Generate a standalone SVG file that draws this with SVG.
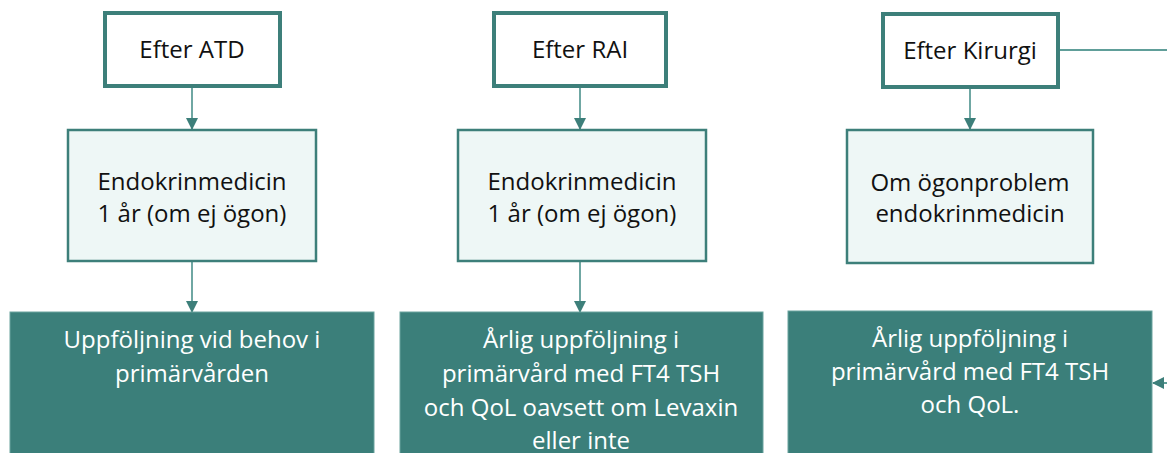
<svg xmlns="http://www.w3.org/2000/svg" width="1167" height="453" viewBox="0 0 1167 453">
<style>
.top{fill:#fff;stroke:#3d7f7a;stroke-width:4}
.mid{fill:#eef7f6;stroke:#3d7f7a;stroke-width:2.5}
.bot{fill:#3b7f7a;stroke:#6aa39e;stroke-width:1}
.t{font-family:"Open Sans","Liberation Sans",sans-serif;font-size:24px;text-anchor:middle;fill:#111}
.w{fill:#fff}
.c{fill:none;stroke:#609e99;stroke-width:1.8}
</style>
<defs>
<marker id="ah" markerWidth="12" markerHeight="12" refX="11" refY="6" orient="auto" markerUnits="userSpaceOnUse">
<path d="M0,0 L12,6 L0,12 Z" fill="#3d7f7a"/>
</marker>
</defs>
<g id="connectors">
<path class="c" d="M192 87 V129" marker-end="url(#ah)"/>
<path class="c" d="M192 261 V312" marker-end="url(#ah)"/>
<path class="c" d="M580 87 V129" marker-end="url(#ah)"/>
<path class="c" d="M580 261 V312" marker-end="url(#ah)"/>
<path class="c" d="M970 88 V129" marker-end="url(#ah)"/>
<path class="c" d="M1058 50 H1180 V383 H1153" marker-end="url(#ah)"/>
</g>
<g id="n1"><rect class="top" x="105" y="13" width="175" height="73"/><text class="t" x="192" y="58">Efter ATD</text></g>
<g id="n2"><rect class="top" x="494" y="13" width="172" height="73"/><text class="t" x="580" y="58">Efter RAI</text></g>
<g id="n3"><rect class="top" x="883" y="14" width="175" height="73"/><text class="t" x="970" y="59">Efter Kirurgi</text></g>
<g id="n4"><rect class="mid" x="68" y="130" width="248" height="131"/><text class="t" x="192" y="190">Endokrinmedicin</text><text class="t" x="192" y="222">1 år (om ej ögon)</text></g>
<g id="n5"><rect class="mid" x="458" y="130" width="248" height="131"/><text class="t" x="582" y="190">Endokrinmedicin</text><text class="t" x="582" y="222">1 år (om ej ögon)</text></g>
<g id="n6"><rect class="mid" x="847" y="130" width="246" height="133"/><text class="t" x="970" y="191">Om ögonproblem</text><text class="t" x="970" y="222">endokrinmedicin</text></g>
<g id="n7"><rect class="bot" x="10" y="312" width="364" height="150"/><text class="t w" x="192" y="348">Uppföljning vid behov i</text><text class="t w" x="192" y="382">primärvården</text></g>
<g id="n8"><rect class="bot" x="400" y="312" width="363" height="150"/><text class="t w" x="581" y="348">Årlig uppföljning i</text><text class="t w" x="581" y="382">primärvård med FT4 TSH</text><text class="t w" x="581" y="416">och QoL oavsett om Levaxin</text><text class="t w" x="581" y="449">eller inte</text></g>
<g id="n9"><rect class="bot" x="788" y="311" width="364" height="150"/><text class="t w" x="970" y="347">Årlig uppföljning i</text><text class="t w" x="970" y="380">primärvård med FT4 TSH</text><text class="t w" x="970" y="413">och QoL.</text></g>
</svg>
